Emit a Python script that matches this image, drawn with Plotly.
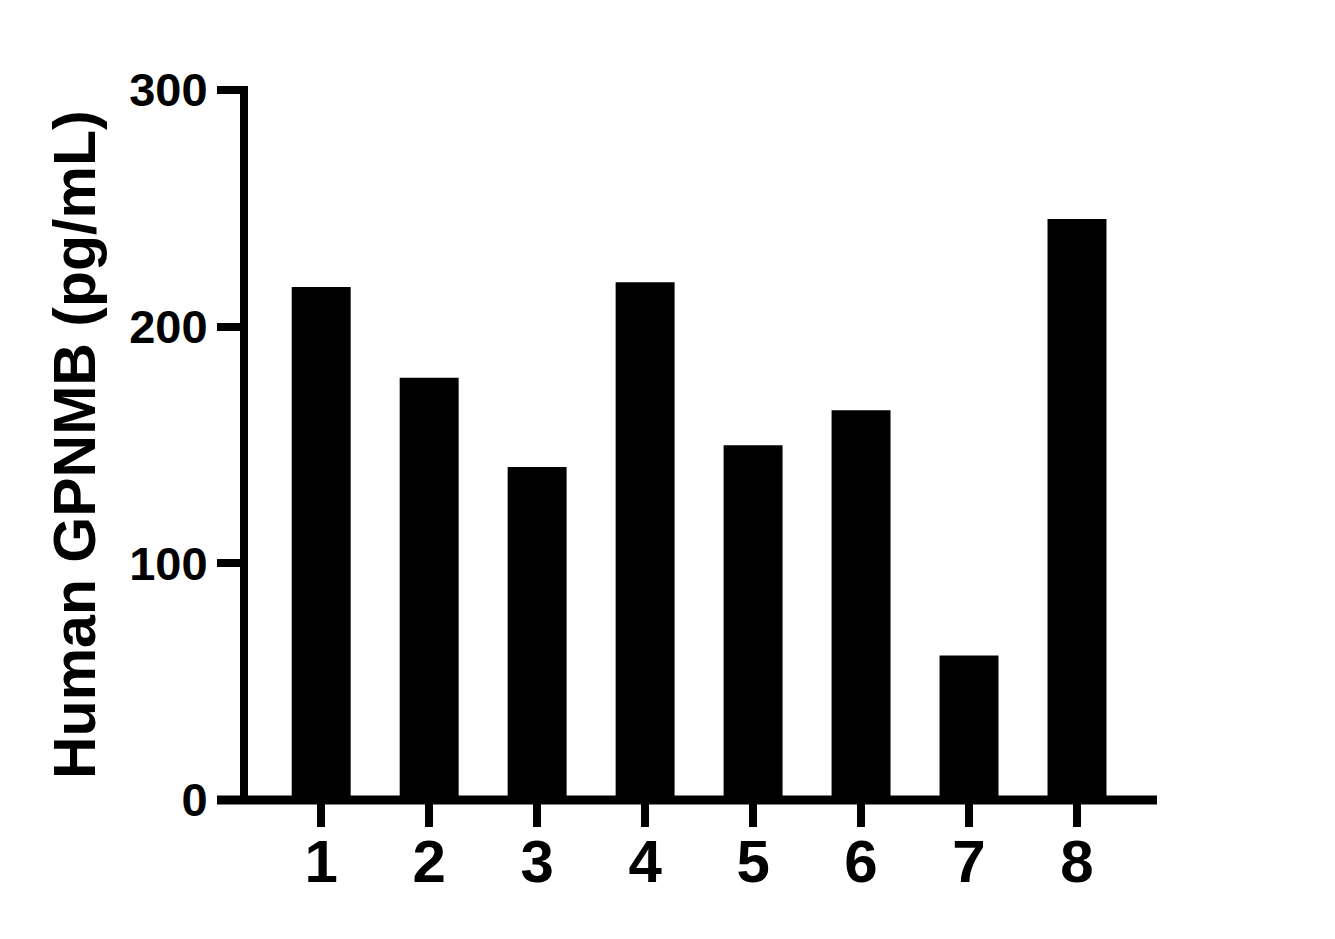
import plotly.graph_objects as go

samples = [1, 2, 3, 4, 5, 6, 7, 8]
gpnmb = [216.8, 178.4, 140.7, 218.8, 149.9, 164.7, 61.1, 245.5]
y_ticks = [0, 100, 200, 300]
y_title = "Human GPNMB (pg/mL)"

W, H = 1335, 939
OFF = 8  # page body margin
L, R, T, B = 244 - OFF, 178 + OFF, 90 - OFF, 139 + OFF
pw = W - L - R
ph = H - T - B

FONT = "Liberation Sans, Arial, Helvetica, sans-serif"

fig = go.Figure()
fig.add_trace(go.Bar(
    x=samples, y=gpnmb, width=0.546,
    marker=dict(color="black", line=dict(width=0)),
    showlegend=False,
))

fig.update_layout(
    width=W, height=H,
    margin=dict(l=L, r=R, t=T, b=B, pad=0),
    paper_bgcolor="white", plot_bgcolor="white",
    font=dict(family=FONT, color="black"),
    xaxis=dict(
        range=[0.285, 8.741], tickvals=samples, ticktext=[str(s) for s in samples],
        ticks="outside", ticklen=26, tickwidth=8, tickcolor="black",
        showline=False, showgrid=False, zeroline=False,
        ticklabelstandoff=-17,
        tickfont=dict(size=60, family=FONT, weight="bold", color="black"),
    ),
    yaxis=dict(
        range=[0, 300], tickvals=y_ticks,
        ticks="outside", ticklen=26, tickwidth=8, tickcolor="black",
        showline=False, showgrid=False, zeroline=False,
        tickfont=dict(size=47, family=FONT, weight="bold", color="black"),
    ),
    shapes=[
        dict(type="line", xref="paper", yref="paper", x0=0, x1=0,
             y0=-4 / ph, y1=1 + 4 / ph, line=dict(color="black", width=8)),
        dict(type="line", xref="paper", yref="paper", x0=-(L + OFF - 217) / pw, x1=1,
             y0=0, y1=0, line=dict(color="black", width=9)),
    ],
    annotations=[
        dict(text=y_title, xref="paper", yref="paper", x=(75 - L - OFF) / pw, y=0.5,
             xanchor="center", yanchor="middle", textangle=-90, showarrow=False,
             font=dict(size=59, family=FONT, weight="bold", color="black")),
    ],
)

fig.write_html("out.html")
